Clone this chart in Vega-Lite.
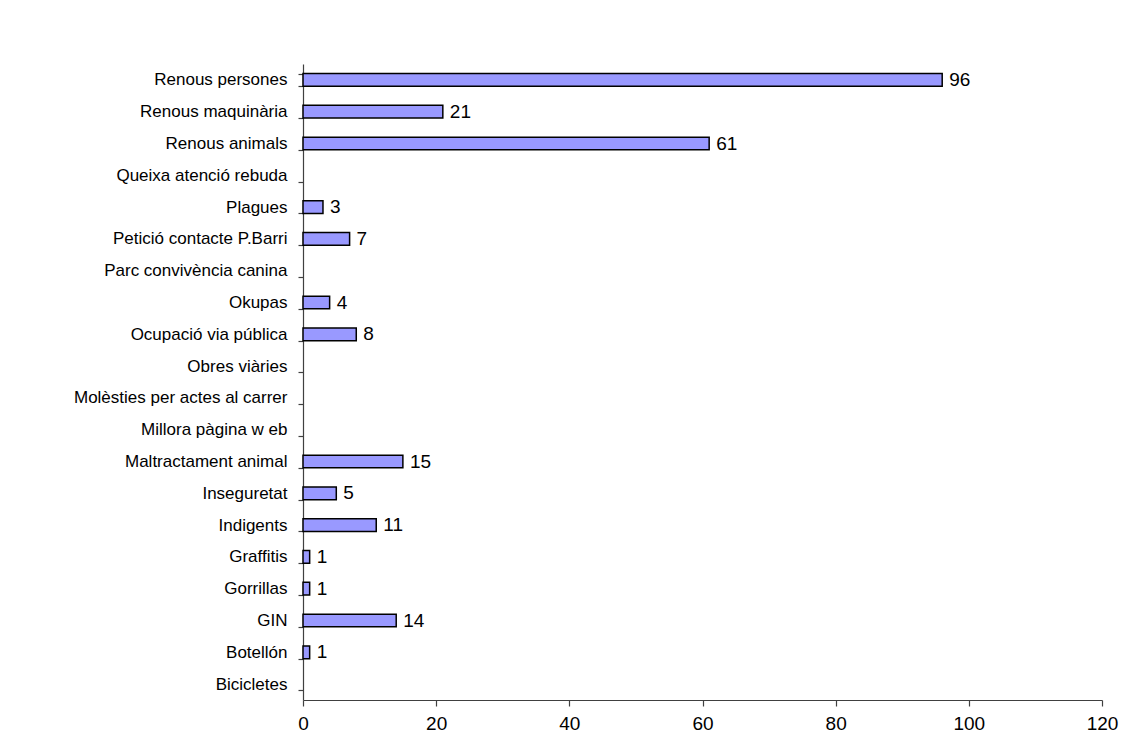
{
  "$schema": "https://vega.github.io/schema/vega-lite/v6.json",
  "autosize": "none",
  "width": 799,
  "height": 636,
  "padding": {"left": 303, "top": 64, "right": 31, "bottom": 40},
  "background": "white",
  "config": {"view": {"stroke": null}, "font": "Liberation Sans"},
  "data": {"values": [
    {"categoria": "Renous persones", "valor": 96},
    {"categoria": "Renous maquinària", "valor": 21},
    {"categoria": "Renous animals", "valor": 61},
    {"categoria": "Queixa atenció rebuda", "valor": 0},
    {"categoria": "Plagues", "valor": 3},
    {"categoria": "Petició contacte P.Barri", "valor": 7},
    {"categoria": "Parc convivència canina", "valor": 0},
    {"categoria": "Okupas", "valor": 4},
    {"categoria": "Ocupació via pública", "valor": 8},
    {"categoria": "Obres viàries", "valor": 0},
    {"categoria": "Molèsties per actes al carrer", "valor": 0},
    {"categoria": "Millora pàgina w eb", "valor": 0},
    {"categoria": "Maltractament animal", "valor": 15},
    {"categoria": "Inseguretat", "valor": 5},
    {"categoria": "Indigents", "valor": 11},
    {"categoria": "Graffitis", "valor": 1},
    {"categoria": "Gorrillas", "valor": 1},
    {"categoria": "GIN", "valor": 14},
    {"categoria": "Botellón", "valor": 1},
    {"categoria": "Bicicletes", "valor": 0}
  ]},
  "encoding": {
    "y": {
      "field": "categoria", "type": "nominal", "sort": null,
      "scale": {"paddingInner": 0.6, "paddingOuter": 0.3},
      "axis": {
        "title": null, "tickBand": "extent", "tickSize": 5, "labelPadding": 11,
        "labelFontSize": 17, "labelColor": "#000000", "labelFont": "Liberation Sans",
        "domainColor": "#404040", "tickColor": "#404040", "domainWidth": 1.2, "tickWidth": 1.2,
        "grid": false, "labelLimit": 400
      }
    },
    "x": {
      "field": "valor", "type": "quantitative",
      "scale": {"domain": [0, 120], "nice": false},
      "axis": {
        "title": null, "values": [0, 20, 40, 60, 80, 100, 120], "tickSize": 6,
        "labelPadding": 8, "labelFontSize": 19, "labelColor": "#000000",
        "labelFont": "Liberation Sans", "domainColor": "#404040", "tickColor": "#404040",
        "domainWidth": 1.2, "tickWidth": 1.2,
        "grid": false, "labelFlush": false
      }
    }
  },
  "layer": [
    {
      "mark": {"type": "bar", "fill": "#9999FF", "stroke": "#000000", "strokeWidth": 1.5},
      "encoding": {
        "strokeOpacity": {"condition": {"test": "datum.valor > 0", "value": 1}, "value": 0}
      }
    },
    {
      "mark": {"type": "text", "align": "left", "baseline": "middle", "dx": 7, "fontSize": 19, "font": "Liberation Sans", "color": "#000000"},
      "encoding": {
        "text": {"field": "valor", "type": "quantitative"},
        "opacity": {"condition": {"test": "datum.valor > 0", "value": 1}, "value": 0}
      }
    }
  ]
}
